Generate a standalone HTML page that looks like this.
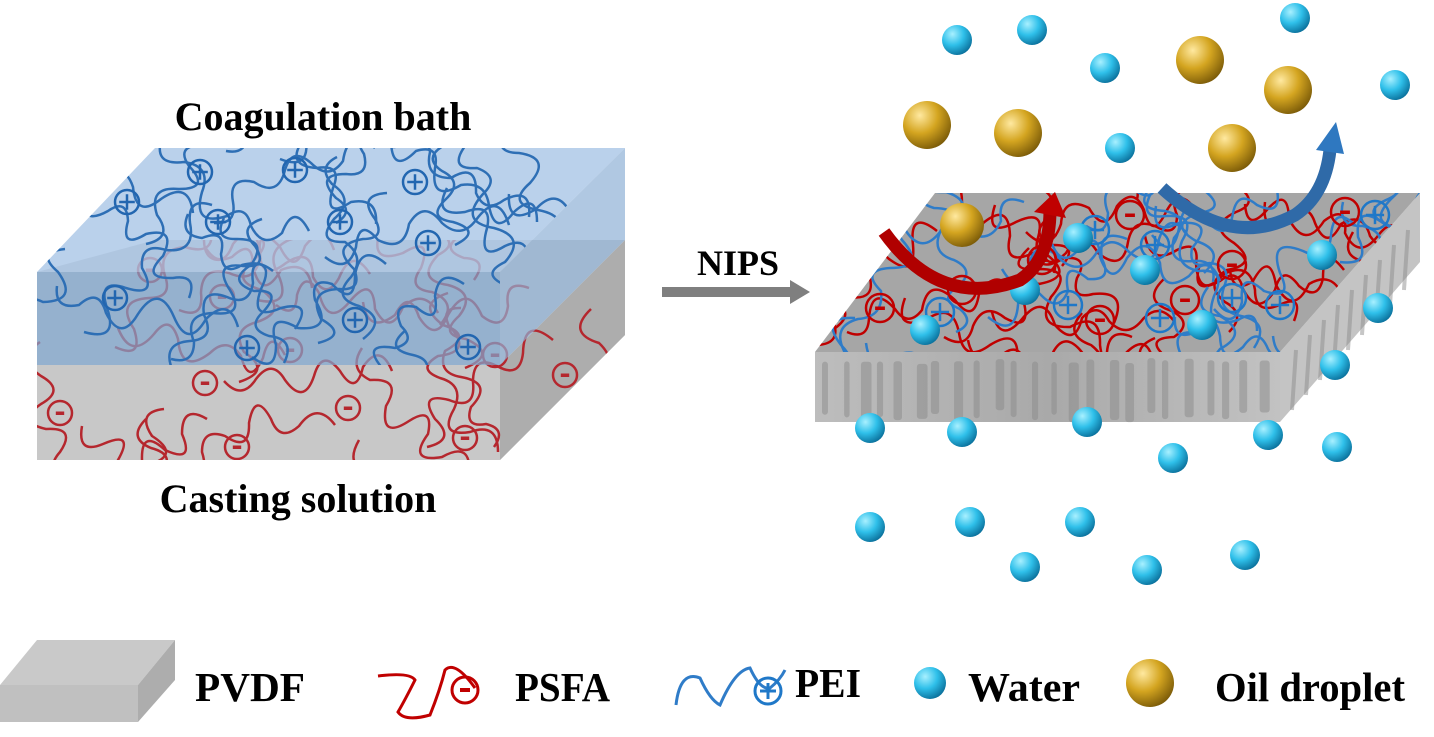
<!DOCTYPE html>
<html><head><meta charset="utf-8"><style>
html,body{margin:0;padding:0;background:#fff;width:1434px;height:737px;overflow:hidden}
text{font-family:"Liberation Serif",serif;font-weight:bold;fill:#000}
</style></head><body>
<svg id="s" width="1434" height="737" viewBox="0 0 1434 737" xmlns="http://www.w3.org/2000/svg">
<defs>
<radialGradient id="w" cx="0.35" cy="0.3" r="0.75"><stop offset="0" stop-color="#a8f0ff"/><stop offset="0.5" stop-color="#2fc0ea"/><stop offset="1" stop-color="#0a6f9a"/></radialGradient>
<radialGradient id="o" cx="0.35" cy="0.3" r="0.75"><stop offset="0" stop-color="#ffe9a0"/><stop offset="0.5" stop-color="#d4a520"/><stop offset="1" stop-color="#7a5a08"/></radialGradient>
<clipPath id="cTopL"><polygon points="37,272 155,148 625,148 500,272 500,365 37,365"/></clipPath>
<clipPath id="cBotL"><polygon points="37,240 625,240 625,335 500,460 37,460"/></clipPath>
<clipPath id="cMem"><polygon points="815,352 935,193 1420,193 1280,352"/></clipPath>
<linearGradient id="sem" x1="0" y1="0" x2="1" y2="0"><stop offset="0" stop-color="#bdbdbd"/><stop offset="0.5" stop-color="#a9a9a9"/><stop offset="1" stop-color="#c2c2c2"/></linearGradient>
</defs>
<polygon points="37,365 500,365 625,240 625,335 500,460 37,460" fill="#c8c8c8"/>
<polygon points="500,365 625,240 625,335 500,460" fill="#adadad"/>
<polygon points="37,272 155,240 625,240 500,365 37,365" fill="#c8c8c8"/>
<g id="redL" clip-path="url(#cBotL)"></g>
<polygon points="37,272 155,148 625,148 500,272" fill="#a9c6e6" opacity="0.8"/>
<polygon points="37,272 500,272 500,365 37,365" fill="#7fa6d0" opacity="0.7"/>
<polygon points="500,272 625,148 625,240 500,365" fill="#8fb0d6" opacity="0.7"/>
<g id="blueL" clip-path="url(#cTopL)"></g>
<text x="323" y="130" font-size="40" text-anchor="middle">Coagulation bath</text>
<text x="298" y="512" font-size="40" text-anchor="middle">Casting solution</text>
<text x="738" y="275" font-size="36" text-anchor="middle">NIPS</text>
<rect x="662" y="287" width="130" height="10" fill="#7f7f7f"/>
<polygon points="790,280 810,292 790,304" fill="#7f7f7f"/>
<polygon points="815,352 1280,352 1280,422 815,422" fill="url(#sem)"/>
<polygon points="1280,352 1420,193 1420,262 1280,422" fill="#c4c4c4"/>
<g id="pores"></g>
<polygon points="815,352 935,193 1420,193 1280,352" fill="#a6a6a6"/>
<g id="mem" clip-path="url(#cMem)"></g>
<g id="balls"></g>
<path d="M884,232 Q940,310 1020,280 Q1050,260 1050,210" fill="none" stroke="#b00000" stroke-width="13"/>
<polygon points="1034,212 1055,192 1066,218" fill="#c00000"/>
<path d="M1162,188 Q1230,250 1295,215 Q1325,195 1330,150" fill="none" stroke="#2f6aa8" stroke-width="13"/>
<polygon points="1316,150 1336,122 1344,154" fill="#2f78c0"/>
<polygon points="0,685 37,640 175,640 138,685" fill="#c9c9c9"/>
<polygon points="0,685 138,685 138,722 0,722" fill="#c0c0c0"/>
<polygon points="138,685 175,640 175,680 138,722" fill="#adadad"/>
<text x="195" y="701" font-size="41" textLength="110" lengthAdjust="spacingAndGlyphs">PVDF</text>
<path d="M378,676 Q410,672 415,680 Q405,700 398,712 Q405,722 430,715 Q440,690 445,670 Q455,660 475,688" fill="none" stroke="#c00000" stroke-width="3"/>
<circle cx="465" cy="690" r="13" fill="none" stroke="#c00000" stroke-width="3"/><rect x="460" y="688" width="10" height="4" fill="#c00000"/>
<text x="515" y="701" font-size="41" textLength="95" lengthAdjust="spacingAndGlyphs">PSFA</text>
<path d="M676,705 Q680,670 700,678 Q710,700 720,705 Q735,670 750,668 Q760,690 770,688 Q780,680 785,670" fill="none" stroke="#2f7cc8" stroke-width="3"/>
<circle cx="768" cy="691" r="13" fill="none" stroke="#1f78c8" stroke-width="3"/><path d="M760,691h16M768,683v16" stroke="#1f78c8" stroke-width="3"/>
<text x="795" y="697" font-size="41" textLength="66" lengthAdjust="spacingAndGlyphs">PEI</text>
<circle cx="930" cy="683" r="16" fill="url(#w)"/>
<text x="968" y="701" font-size="41" textLength="112" lengthAdjust="spacingAndGlyphs">Water</text>
<circle cx="1150" cy="683" r="24" fill="url(#o)"/>
<text x="1215" y="701" font-size="41" textLength="190" lengthAdjust="spacingAndGlyphs">Oil droplet</text>
</svg>
<script>
var seed=11;function R(){seed=(seed*16807)%2147483647;return seed/2147483647;}
var NS="http://www.w3.org/2000/svg";
function el(p,t,a){var e=document.createElementNS(NS,t);for(var k in a)e.setAttribute(k,a[k]);p.appendChild(e);return e;}
function squig(g,x0,y0,x1,y1,n,col,w){
 for(var i=0;i<n;i++){var x=x0+R()*(x1-x0),y=y0+R()*(y1-y0);var a=R()*6.28;var d="M"+x.toFixed(0)+","+y.toFixed(0);var s=1;
  for(var j=0;j<6;j++){a+=(R()-0.5)*0.9;var L=22+R()*14;var nx=x+Math.cos(a)*L,ny=y+Math.sin(a)*L;
   var amp=(18+R()*16)*s;s=-s;var cx=(x+nx)/2-Math.sin(a)*amp,cy=(y+ny)/2+Math.cos(a)*amp;
   d+=" Q"+cx.toFixed(0)+","+cy.toFixed(0)+" "+nx.toFixed(0)+","+ny.toFixed(0);x=nx;y=ny;}
  el(g,"path",{d:d,fill:"none",stroke:col,"stroke-width":w,"stroke-linejoin":"round"});}
}
function charge(g,x,y,r,col,plus){el(g,"circle",{cx:x,cy:y,r:r,fill:"none",stroke:col,"stroke-width":2.5});
 if(plus)el(g,"path",{d:"M"+(x-r*0.65)+","+y+"h"+(r*1.3)+"M"+x+","+(y-r*0.65)+"v"+(r*1.3),stroke:col,"stroke-width":2.5});
 else el(g,"rect",{x:x-r*0.35,y:y-1.5,width:r*0.7,height:3.5,fill:col});}
var red="#b5272e",blue="#2e6fb5";
var gl=document.getElementById("redL");squig(gl,40,250,620,455,26,red,2.5);
[[60,413],[205,383],[348,408],[465,438],[237,447],[565,375],[290,350],[495,355],[150,270],[222,297]].forEach(function(p){charge(gl,p[0],p[1],12,red,false);});
var gb=document.getElementById("blueL");squig(gb,40,150,625,360,30,blue,2.5);
[[127,202],[200,172],[295,170],[415,182],[218,222],[340,222],[428,243],[613,232],[115,298],[247,348],[355,320],[468,347],[518,282]].forEach(function(p){charge(gb,p[0],p[1],12,"#2266b0",true);});
var gm=document.getElementById("mem");squig(gm,830,195,1410,350,26,"#c00000",2.5);squig(gm,830,195,1410,350,26,"#2f7cc8",2.5);
[[880,308],[962,290],[1100,320],[1130,215],[1185,300],[1345,212],[1232,265],[1042,260]].forEach(function(p){charge(gm,p[0],p[1],14,"#c00000",false);});
[[940,312],[1068,305],[1160,318],[1232,298],[1155,245],[1375,215],[1095,230],[1280,305]].forEach(function(p){charge(gm,p[0],p[1],14,"#1f78c8",true);});
var gp=document.getElementById("pores");
for(var x=822;x<1275;x+=14+R()*10){el(gp,"rect",{x:x,y:358+R()*6,width:5+R()*6,height:50+R()*10,rx:3,fill:"#8a8a8a",opacity:0.5});}
for(var k=0;k<9;k++){var sx=1292+k*14;el(gp,"line",{x1:sx,y1:410-k*15,x2:sx+4,y2:350-k*15,stroke:"#8e8e8e","stroke-width":4,opacity:0.5});}
var gB=document.getElementById("balls");
[[957,40],[1032,30],[1105,68],[1295,18],[1395,85],[1120,148],[870,428],[962,432],[1087,422],[1268,435],[1337,447],[1173,458],[870,527],[970,522],[1080,522],[1245,555],[1025,567],[1147,570],[1378,308],[1335,365],[925,330],[1025,290],[1078,238],[1145,270],[1202,325],[1322,255]].forEach(function(p){el(gB,"circle",{cx:p[0],cy:p[1],r:15,fill:"url(#w)"});});
[[927,125,24],[1018,133,24],[1200,60,24],[1288,90,24],[1232,148,24],[962,225,22]].forEach(function(p){el(gB,"circle",{cx:p[0],cy:p[1],r:p[2],fill:"url(#o)"});});
</script>
</body></html>
